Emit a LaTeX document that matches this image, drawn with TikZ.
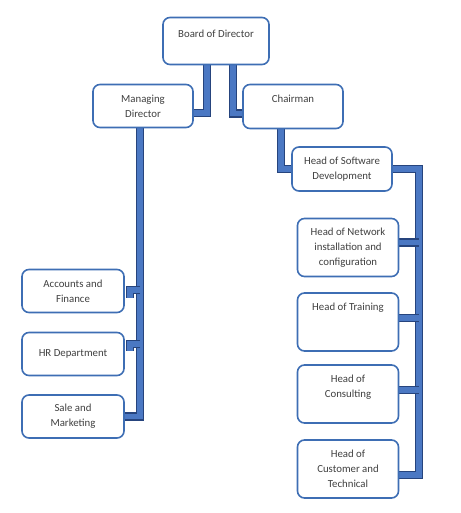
\documentclass[tikz,border=0pt]{standalone}
\usepackage{fontspec}
\setmainfont{Carlito}
\usetikzlibrary{backgrounds}
\definecolor{boxblue}{RGB}{62,110,180}
\definecolor{connfill}{RGB}{75,120,195}
\definecolor{connedge}{RGB}{38,68,125}
\tikzset{
    orgbox/.style={draw=boxblue, line width=1.6pt, rounded corners=7pt, fill=white, align=center, text=black!75, font=\fontsize{10.8}{15}\selectfont, inner sep=2pt},
    conn/.style={draw=connedge, line width=1.3pt, double=connfill, double distance=5.5pt, line join=miter},
}
\begin{document}
\begin{tikzpicture}[x=1pt,y=-1pt]
    \useasboundingbox (0,0) rectangle (460,513);

    \begin{scope}[every node/.style={orgbox}]
        \node[minimum width=106, minimum height=47] (board) at (216,41) {Board of Director\\ ~};
        \node[minimum width=100, minimum height=43] (md) at (143,106) {Managing\\Director};
        \node[minimum width=100, minimum height=44] (chair) at (293,106.5) {Chairman\\ ~};
        \node[minimum width=100, minimum height=44] (hsd) at (342,169) {Head of Software\\Development};
    \end{scope}

    \begin{scope}[every node/.style={orgbox, minimum width=102, minimum height=43}]
        \node (acc) at (73,291) {Accounts and\\Finance};
        \node (hr) at (73,354) {HR Department};
        \node (sale) at (73,416.5) {Sale and\\Marketing};
    \end{scope}

    \begin{scope}[every node/.style={orgbox, minimum width=101, minimum height=58}]
        \node (net) at (348,247.5) {Head of Network\\installation and\\configuration};
        \node (train) at (348,322) {Head of Training\\ ~\\ ~};
        \node (cons) at (348,394) {Head of\\Consulting\\ ~};
        \node (cust) at (348,469) {Head of\\Customer and\\Technical};
    \end{scope}

    \begin{scope}[on background layer]
        \draw[conn] ([xshift=-9pt]board.south) |- ([yshift=-7pt]md.east);
        \draw[conn] ([xshift=17pt]board.south) |- ([yshift=-7pt]chair.west);
        % managing director side
        \draw[conn] ([xshift=-3pt]md.south) |- (sale.east);
        \draw[conn] ([xshift=-3pt,yshift=1pt]md.south |- acc.east) -| ([xshift=5pt,yshift=-7pt]acc.east);
        \draw[conn] ([xshift=-3pt,yshift=10pt]md.south |- hr.east) -| ([xshift=5pt,yshift=3pt]hr.east);
        % chairman side
        \draw[conn] ([xshift=-12pt]chair.south) |- (hsd.west);
        \coordinate (rbar) at ([xshift=26pt]hsd.east);
        \draw[conn] (hsd.east) -- (rbar) |- ([yshift=-6pt]cust.east);
        \draw[conn] ([yshift=5pt]rbar |- net.east) -| ([xshift=-5pt,yshift=-2pt]net.east);
        \draw[conn] ([yshift=4pt]rbar |- train.east) -| ([xshift=-5pt,yshift=-3pt]train.east);
        \draw[conn] ([yshift=4pt]rbar |- cons.east) -| ([xshift=-5pt,yshift=-3pt]cons.east);
    \end{scope}
\end{tikzpicture}
\end{document}
